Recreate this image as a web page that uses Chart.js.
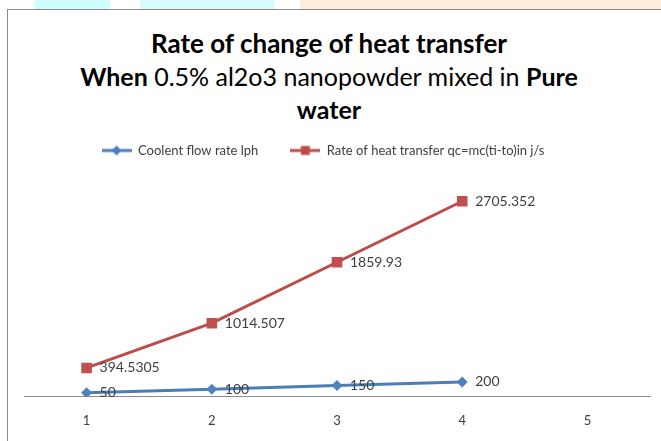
<!DOCTYPE html>
<html>
<head>
<meta charset="utf-8">
<script src="https://cdn.jsdelivr.net/npm/chart.js@4/dist/chart.umd.min.js"></script>
<style>
html, body { margin: 0; padding: 0; background: #fff; }
#wrap { position: relative; width: 661px; height: 441px; overflow: hidden; }
.deco { position: absolute; top: 0; height: 9px; }
#frame { position: absolute; left: 7px; top: 9px; width: 700px; height: 500px; border: 1px solid #8c8c8c; box-sizing: border-box; }
#title { position: absolute; left: 7px; width: 644px; top: 27px; text-align: center; font-family: Lato, sans-serif; font-size: 25px; line-height: 33px; color: #000; }
#title b { font-weight: 700; }
#title span { font-weight: 400; }
#title .big { font-size: 26px; }
#chart { position: absolute; left: 0; top: 0; }
</style>
</head>
<body>
<div id="wrap">
    <div class="deco" style="left:35px;width:75px;background:#cdfdfd"></div>
    <div class="deco" style="left:140px;width:135px;background:#d8fcfc"></div>
    <div class="deco" style="left:300px;width:361px;background:#ffeedd"></div>
    <div id="frame"></div>
    <div id="title">
        <b class="big">Rate of change of heat transfer</b><br>
        <b>When</b> <span>0.5% al2o3 nanopowder mixed in</span> <b>Pure</b><br>
        <b>water</b>
    </div>
    <canvas id="chart" width="661" height="441"></canvas>
</div>
<script>
// Rate of change of heat transfer - line chart
const categories = ['1', '2', '3', '4', '5'];
const flowRate = [50, 100, 150, 200, null];
const heatTransfer = [394.5305, 1014.507, 1859.93, 2705.352, null];
const seriesNames = ['Coolent flow rate lph', 'Rate of heat transfer qc=mc(ti-to)in j/s'];
const yMax = 3000;

const BLUE = '#4A7EBB';
const RED = '#BE4B48';

function legendIcon(color, shape) {
    const c = document.createElement('canvas');
    c.width = 30;
    c.height = 12;
    const g = c.getContext('2d');
    g.strokeStyle = color;
    g.lineWidth = 3;
    g.beginPath();
    g.moveTo(0, 6);
    g.lineTo(30, 6);
    g.stroke();
    g.fillStyle = color;
    g.beginPath();
    if (shape === 'diamond') {
        g.moveTo(15, 1); g.lineTo(20, 6); g.lineTo(15, 11); g.lineTo(10, 6);
    } else {
        g.rect(10.5, 1.5, 9, 9);
    }
    g.closePath();
    g.fill();
    return c;
}

// extra room under the legend, and nudge it a bit
const legendGap = {
    id: 'legendGap',
    beforeInit(chart) {
        const fit = chart.legend.fit;
        chart.legend.fit = function() {
            fit.bind(chart.legend)();
            this.height += 16;
        };
    },
    afterLayout(chart) {
        chart.legend.left -= 14;
        chart.legend.right -= 14;
        chart.legend.top += 3;
        chart.legend.bottom += 3;
    }
};

const pointLabels = {
    id: 'pointLabels',
    afterDatasetsDraw(chart) {
        const ctx = chart.ctx;
        ctx.save();
        ctx.font = '14px Lato, sans-serif';
        ctx.fillStyle = '#404040';
        ctx.textAlign = 'left';
        ctx.textBaseline = 'middle';
        chart.data.datasets.forEach((ds, i) => {
            chart.getDatasetMeta(i).data.forEach((pt, j) => {
                const v = ds.data[j];
                if (v === null || v === undefined) return;
                ctx.fillText(String(v), pt.x + 13, pt.y);
            });
        });
        ctx.restore();
    }
};

new Chart(document.getElementById('chart'), {
    type: 'line',
    data: {
        labels: categories,
        datasets: [{
            label: seriesNames[0],
            data: flowRate,
            borderColor: BLUE,
            backgroundColor: '#4F81BD',
            borderWidth: 3,
            pointStyle: 'rectRot',
            pointRadius: 5.5,
            pointBorderWidth: 0,
            tension: 0
        }, {
            label: seriesNames[1],
            data: heatTransfer,
            borderColor: RED,
            backgroundColor: '#C0504D',
            borderWidth: 3,
            pointStyle: 'rect',
            pointRadius: 7.5,
            pointBorderWidth: 0,
            tension: 0
        }]
    },
    options: {
        responsive: false,
        animation: false,
        layout: { padding: { left: 24, right: 11, top: 109, bottom: 3 } },
        plugins: {
            tooltip: { enabled: false },
            legend: {
                position: 'top',
                labels: {
                    usePointStyle: true,
                    pointStyleWidth: 30,
                    padding: 32,
                    color: '#404040',
                    font: { family: 'Lato, sans-serif', size: 13 },
                    generateLabels: function(chart) {
                        return chart.data.datasets.map((ds, i) => ({
                            text: ds.label,
                            pointStyle: legendIcon(ds.borderColor, i === 0 ? 'diamond' : 'square'),
                            fillStyle: ds.borderColor,
                            strokeStyle: ds.borderColor,
                            lineWidth: 0,
                            fontColor: '#404040',
                            datasetIndex: i
                        }));
                    }
                }
            }
        },
        scales: {
            x: {
                offset: true,
                grid: { display: false },
                border: { color: '#8c8c8c', width: 1 },
                ticks: { color: '#404040', padding: 9, font: { family: 'Lato, sans-serif', size: 13 } }
            },
            y: {
                display: false,
                min: 0,
                max: yMax
            }
        }
    },
    plugins: [legendGap, pointLabels]
});
</script>
</body>
</html>
